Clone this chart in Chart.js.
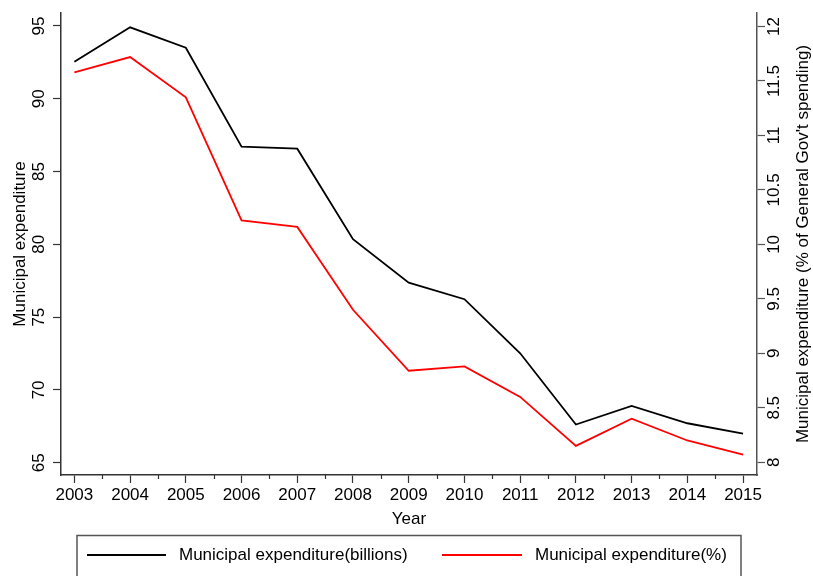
<!DOCTYPE html>
<html>
<head>
<meta charset="utf-8">
<script src="https://cdn.jsdelivr.net/npm/chart.js@4"></script>
<style>
    html, body { margin: 0; padding: 0; background: #fff; }
    #chart { display: block; }
</style>
</head>
<body>
<canvas id="chart" width="813" height="576"></canvas>
<script>
const years = [2003, 2004, 2005, 2006, 2007, 2008, 2009, 2010, 2011, 2012, 2013, 2014, 2015];
const spendBillions = [92.55, 94.91, 93.51, 86.71, 86.57, 80.35, 77.37, 76.23, 72.52, 67.62, 68.9, 67.71, 67.0];
const spendPercent = [11.58, 11.72, 11.35, 10.22, 10.16, 9.4, 8.84, 8.88, 8.6, 8.15, 8.4, 8.2, 8.07];
const leftTicks = [65, 70, 75, 80, 85, 90, 95];
const rightTicks = [8, 8.5, 9, 9.5, 10, 10.5, 11, 11.5, 12];

const FONT = "'Liberation Sans', Arial, sans-serif";
const FONT_SIZE = 17;
const AXIS_COLOR = "#333";

Chart.defaults.font.family = FONT;
Chart.defaults.font.size = FONT_SIZE;
Chart.defaults.color = "#000";

function toPoints(values) {
    return values.map((v, i) => ({ x: years[i], y: v }));
}

// rotated tick labels and titles on both y axes, half-year minor ticks
const axisTextPlugin = {
    id: "axisText",
    afterDraw: (chart) => {
        const ctx = chart.ctx;
        const left = chart.scales.y;
        const right = chart.scales.y1;
        const x = chart.scales.x;
        const area = chart.chartArea;

        ctx.save();
        ctx.font = FONT_SIZE + "px " + FONT;
        ctx.fillStyle = "#000";
        ctx.textAlign = "center";
        ctx.textBaseline = "alphabetic";

        left.ticks.forEach((t) => {
            ctx.save();
            ctx.translate(43.5, left.getPixelForValue(t.value));
            ctx.rotate(-Math.PI / 2);
            ctx.fillText(String(t.value), 0, 0);
            ctx.restore();
        });

        right.ticks.forEach((t) => {
            ctx.save();
            ctx.translate(778.5, right.getPixelForValue(t.value));
            ctx.rotate(-Math.PI / 2);
            ctx.fillText(String(t.value), 0, 0);
            ctx.restore();
        });

        const midY = (area.top + area.bottom) / 2;
        ctx.save();
        ctx.translate(24.5, midY);
        ctx.rotate(-Math.PI / 2);
        ctx.fillText("Municipal expenditure", 0, 0);
        ctx.restore();

        ctx.save();
        ctx.translate(807.5, midY);
        ctx.rotate(-Math.PI / 2);
        ctx.fillText("Municipal expenditure (% of General Gov't spending)", 0, 0);
        ctx.restore();

        // minor ticks between years
        ctx.strokeStyle = AXIS_COLOR;
        ctx.lineWidth = 1.2;
        for (let i = 0; i < years.length - 1; i++) {
            const px = Math.round(x.getPixelForValue(years[i] + 0.5)) + 0.5;
            ctx.beginPath();
            ctx.moveTo(px, area.bottom);
            ctx.lineTo(px, area.bottom + 4);
            ctx.stroke();
        }
        ctx.restore();
    },
};

// boxed legend under the x axis title
const boxLegendPlugin = {
    id: "boxLegend",
    afterDraw: (chart) => {
        const ctx = chart.ctx;
        const sets = chart.data.datasets;
        const slots = [
            { x1: 87, x2: 166, tx: 179 },
            { x1: 442, x2: 522, tx: 535 },
        ];
        const rowY = 555;

        ctx.save();
        ctx.strokeStyle = "#555";
        ctx.lineWidth = 1.5;
        ctx.strokeRect(77, 535.5, 664, 60);

        ctx.font = FONT_SIZE + "px " + FONT;
        ctx.textBaseline = "middle";
        ctx.textAlign = "left";
        sets.forEach((ds, i) => {
            const s = slots[i];
            ctx.strokeStyle = ds.borderColor;
            ctx.lineWidth = ds.borderWidth;
            ctx.beginPath();
            ctx.moveTo(s.x1, rowY);
            ctx.lineTo(s.x2, rowY);
            ctx.stroke();
            ctx.fillStyle = "#000";
            ctx.fillText(ds.label, s.tx, rowY);
        });
        ctx.restore();
    },
};

new Chart(document.getElementById("chart").getContext("2d"), {
    type: "line",
    data: {
        datasets: [
            {
                label: "Municipal expenditure(billions)",
                data: toPoints(spendBillions),
                borderColor: "#000",
                borderWidth: 1.8,
                pointRadius: 0,
                tension: 0,
                yAxisID: "y",
            },
            {
                label: "Municipal expenditure(%)",
                data: toPoints(spendPercent),
                borderColor: "#ff0000",
                borderWidth: 1.8,
                pointRadius: 0,
                tension: 0,
                yAxisID: "y1",
            },
        ],
    },
    options: {
        responsive: false,
        animation: false,
        devicePixelRatio: 1,
        layout: {
            padding: { top: 13, left: 0, right: 0, bottom: 0 },
        },
        plugins: {
            legend: { display: false },
            tooltip: { enabled: false },
        },
        scales: {
            x: {
                type: "linear",
                min: 2002.76,
                max: 2015.25,
                afterBuildTicks: (scale) => {
                    scale.ticks = years.map((v) => ({ value: v }));
                },
                afterFit: (scale) => {
                    scale.height = 101;
                },
                ticks: {
                    padding: 2.5,
                    maxRotation: 0,
                    autoSkip: false,
                    callback: (value) => String(value),
                },
                grid: {
                    drawOnChartArea: false,
                    drawTicks: true,
                    tickLength: 8,
                    tickColor: AXIS_COLOR,
                    tickWidth: 1.2,
                },
                border: { display: true, color: AXIS_COLOR, width: 1.5 },
                title: {
                    display: true,
                    text: "Year",
                    padding: { top: 0, bottom: 46.5 },
                },
            },
            y: {
                type: "linear",
                position: "left",
                min: 64.155,
                max: 95.893,
                afterBuildTicks: (scale) => {
                    scale.ticks = leftTicks.map((v) => ({ value: v }));
                },
                afterFit: (scale) => {
                    scale.width = 61;
                },
                ticks: { display: false },
                grid: {
                    drawOnChartArea: false,
                    drawTicks: true,
                    tickLength: 8,
                    tickColor: AXIS_COLOR,
                    tickWidth: 1.2,
                },
                border: { display: true, color: AXIS_COLOR, width: 1.5 },
            },
            y1: {
                type: "linear",
                position: "right",
                min: 7.883,
                max: 12.124,
                afterBuildTicks: (scale) => {
                    scale.ticks = rightTicks.map((v) => ({ value: v }));
                },
                afterFit: (scale) => {
                    scale.width = 56;
                },
                ticks: { display: false },
                grid: {
                    drawOnChartArea: false,
                    drawTicks: true,
                    tickLength: 8,
                    tickColor: "#555",
                    tickWidth: 1.2,
                },
                border: { display: true, color: "#555", width: 1.5 },
            },
        },
    },
    plugins: [axisTextPlugin, boxLegendPlugin],
});
</script>
</body>
</html>
